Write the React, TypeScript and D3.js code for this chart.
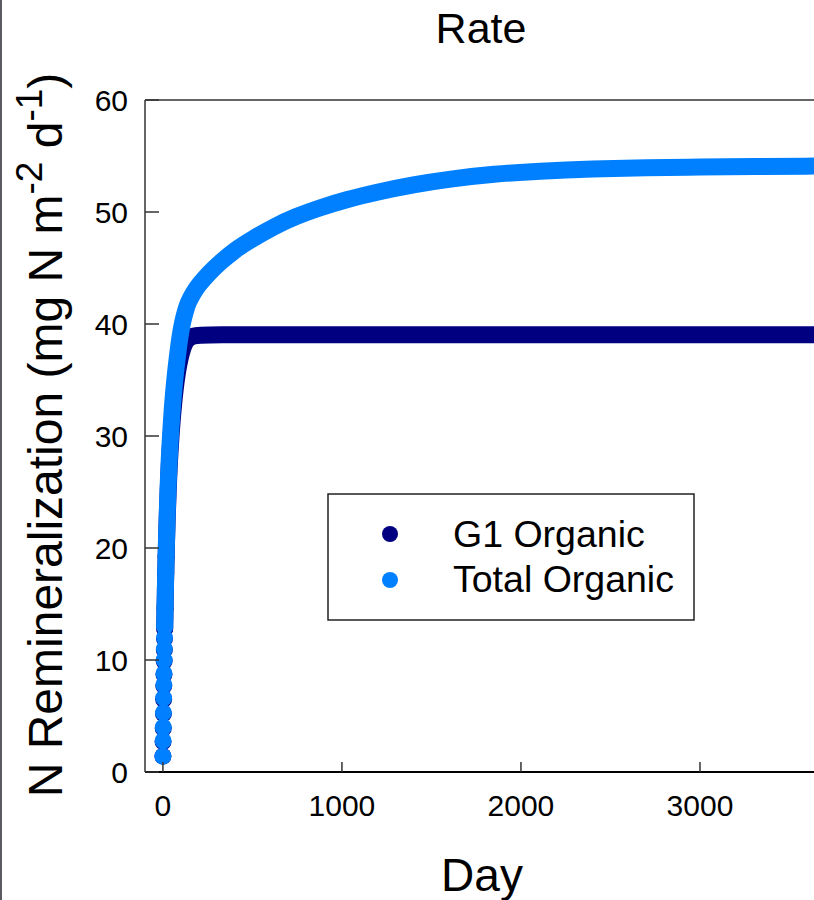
import React from "react";
import * as d3 from "d3";

// Simulated daily N remineralization rates (mg N m^-2 d^-1)
const g1Days = [0, 1, 2, 3, 4, 5, 6, 7, 8, 9, 10, 12, 14, 16, 18, 20, 25, 30, 35, 40, 50, 60, 70, 80, 95, 110, 125, 140, 170, 200, 300, 600, 1000, 1500, 2000, 2500, 3000, 3650];
const g1Values = [1.4, 2.7, 3.9, 5.2, 6.5, 7.7, 8.7, 9.9, 10.9, 11.9, 12.8, 14.6, 16.3, 17.8, 19.2, 20.4, 23.2, 25.4, 27.2, 28.7, 31.1, 32.9, 34.4, 35.6, 36.9, 37.8, 38.4, 38.7, 38.95, 39.0, 39.05, 39.05, 39.05, 39.05, 39.05, 39.05, 39.05, 39.05];

const totalDays = [0, 1, 2, 3, 4, 5, 6, 7, 8, 9, 10, 12, 14, 16, 18, 20, 25, 30, 35, 40, 50, 60, 70, 80, 95, 110, 125, 140, 170, 200, 260, 320, 400, 500, 620, 740, 880, 1020, 1200, 1400, 1600, 1850, 2100, 2400, 2700, 3000, 3300, 3650];
const totalValues = [1.4, 2.8, 4.0, 5.3, 6.6, 7.8, 8.8, 10.0, 11.0, 12.0, 13.0, 14.8, 16.5, 18.0, 19.4, 20.6, 23.6, 25.9, 27.8, 29.4, 32.0, 34.0, 35.6, 37.0, 38.9, 40.2, 41.1, 41.9, 42.8, 43.5, 44.6, 45.5, 46.6, 47.6, 48.7, 49.6, 50.4, 51.1, 51.8, 52.45, 52.95, 53.4, 53.65, 53.85, 53.95, 54.02, 54.07, 54.1];

const xTicks = [0, 1000, 2000, 3000];
const yTicks = [0, 10, 20, 30, 40, 50, 60];

const seriesNames = ["G1 Organic", "Total Organic"];
const seriesColors = ["#000080", "#0080ff"];

const FONT = "'Liberation Sans', Arial, Helvetica, sans-serif";

export default function App() {
  const width = 814;
  const height = 900;
  const left = 145;
  const top = 100;
  const bottom = 772;

  const x = d3.scaleLinear().domain([-100, 4000]).range([left, 879]);
  const y = d3.scaleLinear().domain([0, 60]).range([bottom, top]);

  const series = [
    g1Days.map((d, i) => ({ day: d, value: g1Values[i] })),
    totalDays.map((d, i) => ({ day: d, value: totalValues[i] })),
  ];

  const line = d3
    .line<{ day: number; value: number }>()
    .x((p) => x(p.day))
    .y((p) => y(p.value))
    .curve(d3.curveBasis);

  const r = 8.5;

  return (
    <svg
      width={width}
      height={height}
      style={{ position: "absolute", left: 0, top: 0, background: "#fff" }}
      fontFamily={FONT}
    >
      <rect x={0} y={0} width={width} height={height} fill="#fff" />
      {/* page border on the left */}
      <line x1={1} y1={0} x2={1} y2={height} stroke="#5a5a60" strokeWidth={2} />

      {/* title */}
      <text x={481} y={43} fontSize={43} textAnchor="middle" fill="#000">
        Rate
      </text>

      {/* data: dense daily markers rendered as a marker-width band plus dots */}
      {series.map((pts, si) => (
        <g key={seriesNames[si]} fill={seriesColors[si]}>
          <path
            d={line(pts.filter((p) => p.day >= 10)) || ""}
            fill="none"
            stroke={seriesColors[si]}
            strokeWidth={2 * r}
            strokeLinecap="round"
            strokeLinejoin="round"
          />
          {pts
            .filter((p) => p.day <= 20)
            .map((p, i) => (
              <circle key={i} cx={x(p.day)} cy={y(p.value)} r={r} />
            ))}
        </g>
      ))}

      {/* frame */}
      <line x1={left} y1={top} x2={width} y2={top} stroke="#333" strokeWidth={1.5} />
      <line x1={left} y1={top} x2={left} y2={bottom} stroke="#333" strokeWidth={1.5} />
      <line x1={left} y1={bottom} x2={width} y2={bottom} stroke="#000" strokeWidth={2} />

      {/* y axis */}
      {yTicks.map((t) => (
        <g key={`y${t}`}>
          <line x1={left} x2={left + 14} y1={y(t)} y2={y(t)} stroke="#333" strokeWidth={1.5} />
          <text x={128} y={y(t)} dy="0.36em" fontSize={30} textAnchor="end" fill="#000">
            {t}
          </text>
        </g>
      ))}

      {/* x axis */}
      {xTicks.map((t) => (
        <g key={`x${t}`}>
          <line x1={x(t)} x2={x(t)} y1={bottom} y2={bottom - 10} stroke="#333" strokeWidth={1.5} />
          <text x={x(t)} y={816} fontSize={30} textAnchor="middle" fill="#000">
            {t}
          </text>
        </g>
      ))}

      {/* axis titles */}
      <text x={482} y={891} fontSize={46} textAnchor="middle" fill="#000">
        Day
      </text>
      <text
        transform="translate(62,435) rotate(-90)"
        fontSize={48}
        textAnchor="middle"
        fill="#000"
      >
        N Remineralization (mg N m
        <tspan fontSize={37} dy={-20}>-2</tspan>
        <tspan dy={20}> d</tspan>
        <tspan fontSize={37} dy={-20}>-1</tspan>
        <tspan dy={20}>)</tspan>
      </text>

      {/* legend */}
      <rect x={328} y={494} width={366} height={126} fill="#fff" stroke="#222" strokeWidth={1.5} />
      {seriesNames.map((name, i) => (
        <g key={name}>
          <circle cx={390} cy={534 + i * 46} r={8} fill={seriesColors[i]} />
          <text x={453} y={547 + i * 45} fontSize={37.5} fill="#000">
            {name}
          </text>
        </g>
      ))}
    </svg>
  );
}
